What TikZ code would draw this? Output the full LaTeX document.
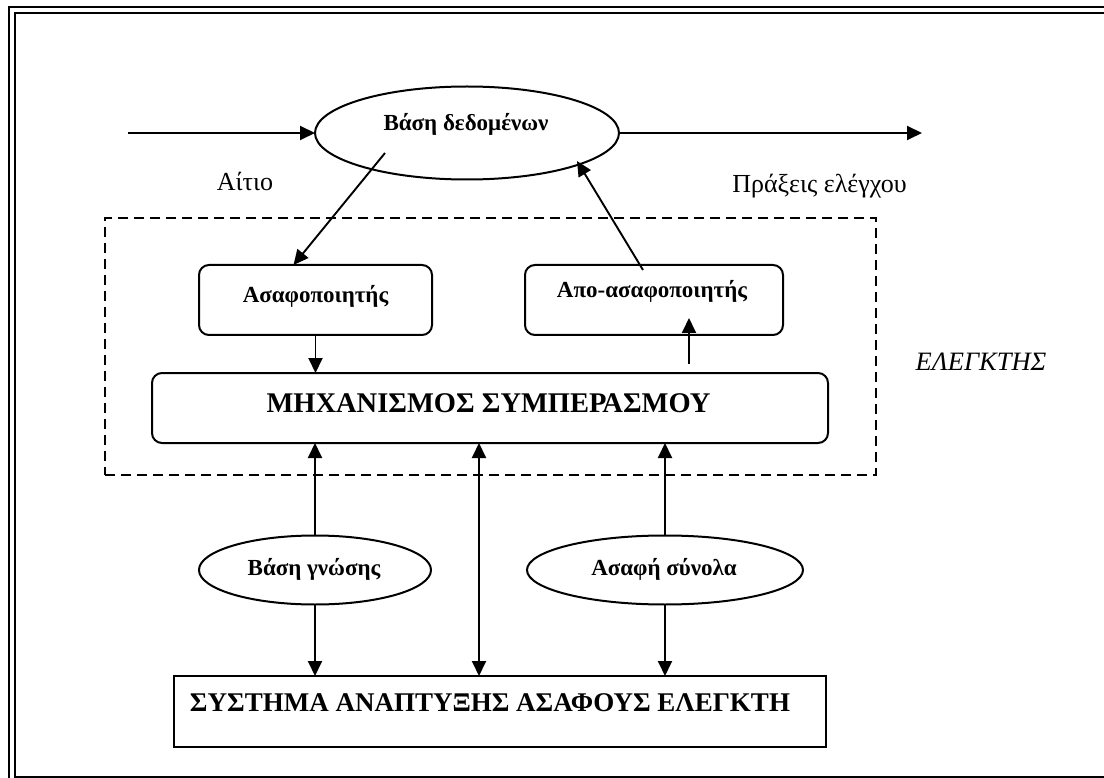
\documentclass[tikz,border=0pt]{standalone}
\usepackage{fontspec}
\setmainfont{Liberation Serif}
\usetikzlibrary{shapes.geometric,arrows.meta,calc}
\begin{document}
\begin{tikzpicture}[x=1pt,y=-1pt,
  every node/.style={inner sep=0pt, outer sep=0pt},
  conn/.style={line width=1.9pt,-{Triangle[length=15pt,width=14pt]}},
  dconn/.style={line width=1.9pt,{Triangle[length=15pt,width=14pt]}-{Triangle[length=15pt,width=14pt]}},
  oval/.style={ellipse,draw,line width=2pt},
  rbox/.style={draw,rounded corners=10pt,line width=2pt},
  sbox/.style={draw,line width=2pt},
  lbl/.style={font=\fontsize{23}{27}\selectfont\bfseries},
  big/.style={font=\fontsize{28.5}{33}\selectfont\bfseries},
  plain/.style={font=\fontsize{26}{30}\selectfont},
]
\useasboundingbox (0,0) rectangle (1104,778);
% frame
\draw[line width=2.6pt] (9,778) -- (9,7) -- (1104,7);
\draw[line width=2pt] (1104,13.5) -- (15,13.5) -- (15,776.5) -- (1104,776.5);

% database
\node[oval, minimum width=304pt, minimum height=93pt] (db) at (467,133) {};
\node[lbl] (dbt) at (466,124) {Βάση δεδομένων};
\coordinate (in) at (128,133);
\coordinate (out) at (922,133);
\draw[conn] (in) -- (db.west);
\draw[conn] (db.east) -- (out);
\node[plain] (cause) at (245,181) {Αίτιο};
\node[plain] (acts) at (819.5,186) {Πράξεις ελέγχου};

% controller
\node[draw,dash pattern=on 10pt off 6pt,line width=1.9pt,minimum width=771pt,minimum height=257pt] (ctrl) at (490.5,346.5) {};
\node[font=\fontsize{26.5}{31}\selectfont\itshape] (ctrlt) at (981,362) {ΕΛΕΓΚΤΗΣ};

\node[rbox,minimum width=233pt,minimum height=70pt] (fz) at (315.5,300) {};
\node[lbl] (fzt) at (315.5,296) {Ασαφοποιητής};
\node[rbox,minimum width=258pt,minimum height=70pt] (dfz) at (654,300) {};
\node[lbl] (dfzt) at (652,291) {Απο-ασαφοποιητής};
\node[rbox,minimum width=676pt,minimum height=70pt] (inf) at (490,408) {};
\node[big] (inft) at (488.5,403) {ΜΗΧΑΝΙΣΜΟΣ ΣΥΜΠΕΡΑΣΜΟΥ};

% lower part
\node[oval,minimum width=232pt,minimum height=69pt] (kb) at (315,570) {};
\node[lbl] (kbt) at (314,569) {Βάση γνώσης};
\node[oval,minimum width=276pt,minimum height=69pt] (fs) at (665,570) {};
\node[lbl] (fst) at (664,569) {Ασαφή σύνολα};
\node[sbox,minimum width=652pt,minimum height=71pt] (sys) at (500,711.5) {};
\node[font=\fontsize{27}{32}\selectfont\bfseries] (syst) at (490,703) {ΣΥΣΤΗΜΑ ΑΝΑΠΤΥΞΗΣ ΑΣΑΦΟΥΣ ΕΛΕΓΚΤΗ};

% connectors
\coordinate (a1) at (385,153);
\draw[conn] (a1) -- ($(fz.north)+(-22,0)$);
\coordinate (a2) at (643,270);
\coordinate (b2) at (577,161);
\draw[conn] (a2) -- (b2);
\draw[conn] (fz.south) -- (fz.south |- inf.north);
\coordinate (a3) at (689,364);
\coordinate (b3) at (689,318);
\draw[conn] (a3) -- (b3);
\draw[conn] (kb.north) -- (kb.north |- inf.south);
\draw[conn] (fs.north) -- (fs.north |- inf.south);
\coordinate (mx) at (479,560);
\draw[dconn] (mx |- inf.south) -- (mx |- sys.north);
\draw[conn] (kb.south) -- (kb.south |- sys.north);
\draw[conn] (fs.south) -- (fs.south |- sys.north);
\end{tikzpicture}
\end{document}
